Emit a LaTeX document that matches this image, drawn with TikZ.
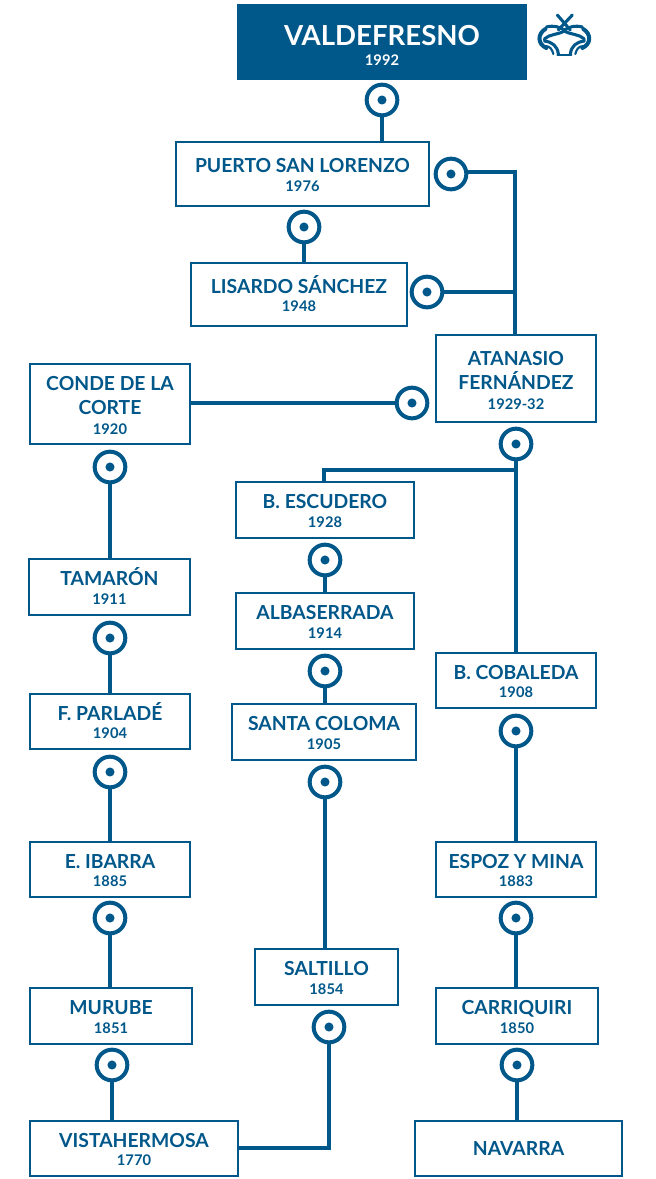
\documentclass[tikz,border=0pt]{standalone}
\usepackage{fontspec}
\setmainfont{Lato}
\definecolor{bull}{HTML}{00578A}
\newcommand{\nm}[1]{\rule{0pt}{12pt}\smash{\fontsize{14.5}{14}\selectfont\bfseries #1}}
\newcommand{\nmt}[1]{\rule{0pt}{13.5pt}\smash{\fontsize{14.5}{14}\selectfont\bfseries #1}}
\newcommand{\yr}[1]{{\fontsize{11}{14}\selectfont\bfseries #1}}
\tikzset{
  x=0.75pt,y=-0.75pt,
  brd/.style={draw=bull,line width=1.5pt,fill=white,text=bull,align=center,inner sep=0pt,anchor=center,font=\fontsize{10}{14}\selectfont},
  ring/.style={circle,draw=bull,line width=3pt,fill=white,minimum size=23pt,inner sep=0pt,
    path picture={\fill[bull] (path picture bounding box.center) circle (3.4pt);}},
  link/.style={draw=bull,line width=3pt},
  emb/.style={draw=bull,line width=2.3pt,line cap=round}
}
\newcommand{\bx}[6]{% name x1 y1 x2 y2 text
  \node[brd,minimum width={(#4-#2)*0.75pt},minimum height={(#5-#3)*0.75pt}] (#1) at ({(#2+#4)/2},{(#3+#5)/2}) {#6};}
\newcommand{\rg}[3]{\node[ring] (#1) at (#2,#3) {};}
\begin{document}
\begin{tikzpicture}
\useasboundingbox (0,0) rectangle (656,1179);
\node[fill=bull,text=white,align=center,inner sep=0pt,minimum width=217.5pt,minimum height=57pt,font=\fontsize{10}{15.5}\selectfont] (vald) at (382,42)
  {\rule{0pt}{19.5pt}{\fontsize{20.7}{22}\selectfont\bfseries VALDEFRESNO}\\[-0.5pt]\yr{1992}};
\bx{puerto}{176}{142}{429}{206}{\nm{PUERTO SAN LORENZO}\\\yr{1976}}
\bx{lisardo}{191}{263}{407}{326}{\nm{LISARDO SÁNCHEZ}\\\yr{1948}}
\bx{atan}{436}{335}{596}{422}{\nmt{ATANASIO}\\[4pt]\nm{FERNÁNDEZ}\\[1pt]\yr{1929-32}}
\bx{conde}{30}{364}{190}{444}{\nmt{CONDE DE LA}\\[4pt]\nm{CORTE}\\[1pt]\yr{1920}}
\bx{esc}{236}{482}{414}{538}{\nm{B. ESCUDERO}\\\yr{1928}}
\bx{alba}{236}{593}{414}{649}{\nm{ALBASERRADA}\\\yr{1914}}
\bx{santa}{232}{704}{416}{760}{\nm{SANTA COLOMA}\\\yr{1905}}
\bx{salt}{255}{949}{398}{1005}{\nm{SALTILLO}\\\yr{1854}}
\bx{coba}{436}{653}{596}{708}{\nm{B. COBALEDA}\\\yr{1908}}
\bx{espoz}{436}{842}{596}{897}{\nm{ESPOZ Y MINA}\\\yr{1883}}
\bx{carri}{436}{988}{598}{1044}{\nm{CARRIQUIRI}\\\yr{1850}}
\bx{nava}{415}{1121}{622}{1176}{\rule{0pt}{10.5pt}\smash{\fontsize{14.5}{14}\selectfont\bfseries NAVARRA}}
\bx{tama}{29}{559}{190}{615}{\nm{TAMARÓN}\\\yr{1911}}
\bx{parl}{30}{694}{190}{749}{\nm{F. PARLADÉ}\\\yr{1904}}
\bx{ibar}{30}{842}{190}{897}{\nm{E. IBARRA}\\\yr{1885}}
\bx{muru}{30}{988}{192}{1044}{\nm{MURUBE}\\\yr{1851}}
\bx{vist}{30}{1121}{238}{1176}{\nm{VISTAHERMOSA}\\\yr{1770}}
\rg{ra}{382}{100}
\rg{rb}{451}{174}
\rg{rc}{304}{227}
\rg{rd}{427}{292}
\rg{re}{412}{403}
\rg{rf}{516}{444}
\rg{rg}{110}{467}
\rg{rh}{325}{560}
\rg{ri}{325}{671}
\rg{rj}{325}{782}
\rg{rk}{516}{731}
\rg{rl}{110}{638}
\rg{rm}{110}{772}
\rg{rn}{110}{918}
\rg{ro}{516}{918}
\rg{rp}{329}{1027}
\rg{rq}{112}{1065}
\rg{rr}{517}{1065}
\coordinate (jb) at (515,172);
\coordinate (jd) at (515,292);
\coordinate (jf) at (324,470);
\coordinate (jv) at (329,1148);
\draw[link] (ra.south) -- (ra.south |- puerto.north);
\draw[link] (rb.east |- jb) -- (jb) -- (jb |- atan.north);
\draw[link] (rc.south) -- (rc.south |- lisardo.north);
\draw[link] (rd.east) -- (jd);
\draw[link] (conde.east |- re) -- (re.west);
\draw[link] (rf.south) -- (rf.south |- coba.north);
\draw[link] (rf.south |- jf) -- (jf) -- (jf |- esc.north);
\draw[link] (rh.south) -- (rh.south |- alba.north);
\draw[link] (ri.south) -- (ri.south |- santa.north);
\draw[link] (rj.south) -- (rj.south |- salt.north);
\draw[link] (rk.south) -- (rk.south |- espoz.north);
\draw[link] (ro.south) -- (ro.south |- carri.north);
\draw[link] (rr.south) -- (rr.south |- nava.north);
\draw[link] (rg.south) -- (rg.south |- tama.north);
\draw[link] (rl.south) -- (rl.south |- parl.north);
\draw[link] (rm.south) -- (rm.south |- ibar.north);
\draw[link] (rn.south) -- (rn.south |- muru.north);
\draw[link] (rq.south) -- (rq.south |- vist.north);
\draw[link] (vist.east |- jv) -- (jv) -- (rp.south);
% emblem
\begin{scope}[xshift=-0.5pt]
\draw[emb] (558,15) -- (571,30) (573,15) -- (559,30);
\draw[emb] (547,27) .. controls (555,25) and (560,27) .. (565,30) .. controls (570,27) and (575,25) .. (583,27);
\draw[emb,line width=3pt] (546,29) .. controls (538,34) and (538,44) .. (547,48);
\draw[emb,line width=3pt] (584,29) .. controls (592,34) and (592,44) .. (583,48);
\draw[emb] (565,31) .. controls (558,35) and (550,34) .. (545,39) (565,31) .. controls (572,35) and (580,34) .. (585,39);
\draw[emb] (545,41) .. controls (553,42) and (558,46) .. (559,54) (585,41) .. controls (577,42) and (572,46) .. (571,54);
\draw[emb,line width=1.6pt] (546,46) .. controls (551,46) and (553,50) .. (554,54) (584,46) .. controls (579,46) and (577,50) .. (576,54);
\draw[emb,line width=1.5pt] (558,55) -- (572,55);
\end{scope}
\end{tikzpicture}
\end{document}
